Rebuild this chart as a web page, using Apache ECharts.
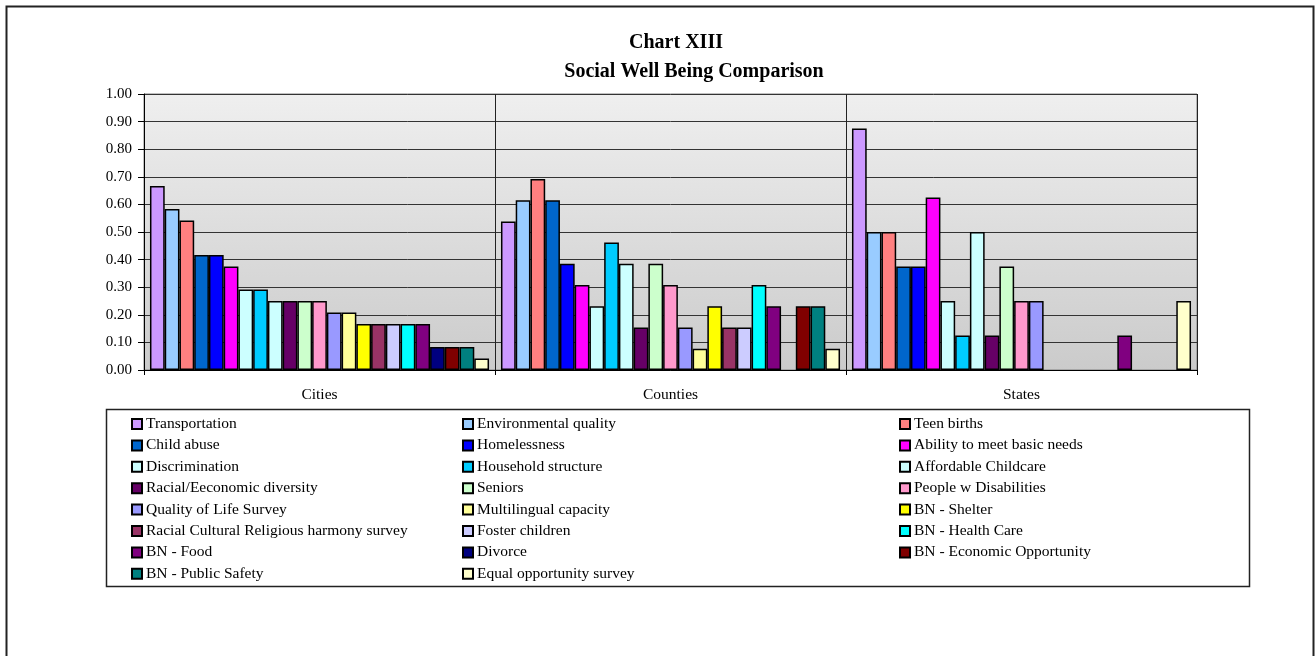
<!DOCTYPE html>
<html>
<head>
<meta charset="utf-8">
<script src="https://cdn.jsdelivr.net/npm/echarts@6/dist/echarts.min.js"></script>
<style>
  html, body { margin: 0; padding: 0; background: #fff; }
  #main { width: 1315px; height: 656px; }
</style>
</head>
<body>
<div id="main"></div>
<script>
// categories on the x axis
var categories = ['Cities', 'Counties', 'States'];

// series names, in legend order (row by row, 3 columns)
var seriesNames = [
  'Transportation', 'Environmental quality', 'Teen births',
  'Child abuse', 'Homelessness', 'Ability to meet basic needs',
  'Discrimination', 'Household structure', 'Affordable Childcare',
  'Racial/Eeconomic diversity', 'Seniors', 'People w Disabilities',
  'Quality of Life Survey', 'Multilingual capacity', 'BN - Shelter',
  'Racial Cultural Religious harmony survey', 'Foster children', 'BN - Health Care',
  'BN - Food', 'Divorce', 'BN - Economic Opportunity',
  'BN - Public Safety', 'Equal opportunity survey'
];

// values per category, same order as seriesNames
var citiesValues = [0.667, 0.583, 0.542, 0.417, 0.417, 0.375, 0.292, 0.292, 0.25, 0.25, 0.25, 0.25,
  0.208, 0.208, 0.167, 0.167, 0.167, 0.167, 0.167, 0.083, 0.083, 0.083, 0.042];
var countiesValues = [0.538, 0.615, 0.692, 0.615, 0.385, 0.308, 0.231, 0.462, 0.385, 0.154, 0.385, 0.308,
  0.154, 0.077, 0.231, 0.154, 0.154, 0.308, 0.231, null, 0.231, 0.231, 0.077];
var statesValues = [0.875, 0.5, 0.5, 0.375, 0.375, 0.625, 0.25, 0.125, 0.5, 0.125, 0.375, 0.25,
  0.25, null, null, null, null, null, 0.125, null, null, null, 0.25];

// y axis ticks
var yMin = 0, yMax = 1, yStep = 0.1;

// bar colours (excel 97 palette)
var colors = ['#CC99FF', '#99CCFF', '#FF8080', '#0066CC', '#0000FF', '#FF00FF',
  '#CCFFFF', '#00CCFF', '#CCFFFF', '#660066', '#CCFFCC', '#FF99CC',
  '#9999FF', '#FFFF99', '#FFFF00', '#993366', '#CCCCFF', '#00FFFF',
  '#800080', '#000080', '#800000', '#008080', '#FFFFCC'];

var serif = 'Liberation Serif';

document.addEventListener('DOMContentLoaded', function () {
  var myChart = echarts.init(document.getElementById('main'));

  var series = seriesNames.map(function (name, i) {
    return {
      name: name,
      type: 'bar',
      data: [citiesValues[i], countiesValues[i], statesValues[i]],
      barGap: 0,
      barCategoryGap: '3.4%',
      itemStyle: { color: colors[i], borderColor: '#000', borderWidth: 1.5 },
      emphasis: { disabled: true }
    };
  });

  // three vertical legends = three columns
  var cols = [[], [], []];
  seriesNames.forEach(function (n, i) { cols[i % 3].push(n); });
  var colLeft = [131, 462, 899];
  var legends = cols.map(function (names, c) {
    return {
      data: names,
      orient: 'vertical',
      left: colLeft[c],
      top: 416,
      itemWidth: 10,
      itemHeight: 10,
      itemGap: 5.4,
      icon: 'rect',
      selectedMode: false,
      padding: 0,
      textStyle: { fontFamily: serif, fontSize: 15.5, color: '#000', padding: [0, 0, 0, -1] }
    };
  });

  var titleFont = { fontFamily: serif, fontSize: 20, fontWeight: 'bold', fill: '#000' };

  var option = {
    animation: false,
    legend: legends,
    grid: {
      left: 144, right: 118, top: 94, bottom: 286,
      show: true,
      borderColor: '#808080',
      borderWidth: 1,
      backgroundColor: new echarts.graphic.LinearGradient(0, 0, 0, 1, [
        { offset: 0, color: '#EFEFEF' },
        { offset: 1, color: '#CBCBCB' }
      ])
    },
    xAxis: {
      type: 'category',
      data: categories,
      axisLine: { lineStyle: { color: '#000', width: 1 } },
      axisTick: { show: true, length: 5, lineStyle: { color: '#000' } },
      axisLabel: { fontFamily: serif, fontSize: 15.5, color: '#000', margin: 17 },
      splitLine: { show: true, lineStyle: { color: '#222', width: 1 } }
    },
    yAxis: {
      type: 'value',
      min: yMin, max: yMax, interval: yStep,
      axisLine: { show: true, lineStyle: { color: '#000', width: 1 } },
      axisTick: { show: true, length: 6, lineStyle: { color: '#000' } },
      axisLabel: {
        fontFamily: serif, fontSize: 15, color: '#000', margin: 12,
        formatter: function (v) { return v.toFixed(2); }
      },
      splitLine: { show: true, lineStyle: { color: '#333', width: 1 } }
    },
    graphic: [
      // outer chart border
      { type: 'rect', left: 4, top: 4, silent: true,
        shape: { width: 1307, height: 700 },
        style: { fill: null, stroke: '#222', lineWidth: 2 } },
      // legend box
      { type: 'rect', left: 104, top: 407, silent: true,
        shape: { width: 1143, height: 177 },
        style: { fill: null, stroke: '#222', lineWidth: 1.5 } },
      // two-line title
      { type: 'text', x: 676, y: 43, silent: true,
        style: Object.assign({ text: 'Chart XIII', textAlign: 'center', textVerticalAlign: 'middle' }, titleFont) },
      { type: 'text', x: 694, y: 72, silent: true,
        style: Object.assign({ text: 'Social Well Being Comparison', textAlign: 'center', textVerticalAlign: 'middle' }, titleFont) }
    ],
    series: series
  };
  myChart.setOption(option);
});
</script>
</body>
</html>
